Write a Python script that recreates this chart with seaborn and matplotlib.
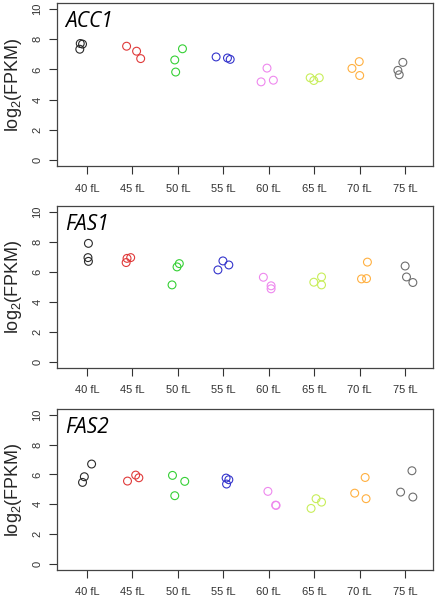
import pandas as pd
import matplotlib
matplotlib.use("Agg")
import matplotlib.pyplot as plt
import seaborn as sns

# categories (cell volume bins) and their colours
sizes = ["40 fL", "45 fL", "50 fL", "55 fL", "60 fL", "65 fL", "70 fL", "75 fL"]
colors = ["#2a2a2a", "#e03a3a", "#35d035", "#3535cc", "#ee88ee", "#c8ee5a", "#ffb040", "#6e6e6e"]

# log2(FPKM), three replicates per size bin
acc1 = [[7.34, 7.72, 7.68], [7.54, 7.21, 6.72], [6.63, 5.83, 7.37], [6.83, 6.76, 6.67],
        [5.18, 6.09, 5.29], [5.45, 5.27, 5.45], [6.07, 6.52, 5.60], [5.94, 5.65, 6.47]]
fas1 = [[7.90, 6.95, 6.70], [6.62, 6.90, 6.95], [5.13, 6.33, 6.55], [6.13, 6.73, 6.46],
        [5.64, 5.07, 4.87], [5.31, 5.66, 5.13], [5.53, 5.55, 6.65], [6.39, 5.66, 5.29]]
fas2 = [[5.47, 5.85, 6.70], [5.56, 5.96, 5.78], [5.94, 4.58, 5.54], [5.76, 5.65, 5.36],
        [4.87, 3.95, 3.93], [3.73, 4.38, 4.15], [4.75, 5.80, 4.38], [4.82, 6.25, 4.49]]

# horizontal jitter of each replicate as seen in the picture
jit_acc1 = [[-0.16, -0.15, -0.10], [-0.13, 0.09, 0.18], [-0.07, -0.05, 0.10], [-0.16, 0.09, 0.15],
            [-0.17, -0.04, 0.10], [-0.09, -0.01, 0.11], [-0.17, -0.01, 0.00], [-0.16, -0.13, -0.05]]
jit_fas1 = [[0.03, 0.02, 0.03], [-0.14, -0.12, -0.04], [-0.13, -0.02, 0.03], [-0.12, -0.01, 0.12],
            [-0.12, 0.05, 0.05], [-0.01, 0.16, 0.16], [0.04, 0.15, 0.17], [0.00, 0.03, 0.17]]
jit_fas2 = [[-0.10, -0.06, 0.10], [-0.11, 0.07, 0.14], [-0.12, -0.07, 0.15], [0.06, 0.12, 0.07],
            [-0.02, 0.15, 0.16], [-0.07, 0.04, 0.16], [-0.11, 0.12, 0.14], [-0.10, 0.15, 0.17]]

genes = ["ACC1", "FAS1", "FAS2"]
values = [acc1, fas1, fas2]
jitters = [jit_acc1, jit_fas1, jit_fas2]


def make_frame(vals, jit):
    rows = []
    for i, size in enumerate(sizes):
        for v, j in zip(vals[i], jit[i]):
            rows.append({"size": size, "pos": i + j, "log2fpkm": v})
    return pd.DataFrame(rows)


sns.set_style("white")
plt.rcParams["font.family"] = ["Liberation Sans", "DejaVu Sans"]
plt.rcParams["mathtext.default"] = "regular"

fig = plt.figure(figsize=(4.39, 6.02), dpi=100)
panels = [(0.724, 0.995), (0.389, 0.658), (0.053, 0.321)]
palette = dict(zip(sizes, colors))

for gene, vals, jit, (b, t) in zip(genes, values, jitters, panels):
    ax = fig.add_axes([0.13, b, 0.856, t - b])
    df = make_frame(vals, jit)
    sns.scatterplot(data=df, x="pos", y="log2fpkm", hue="size", palette=palette,
                    marker="o", s=32, linewidth=0.8, legend=False, ax=ax)
    # seaborn fills markers; make them hollow rings in the hue colour
    coll = ax.collections[0]
    coll.set_edgecolors(coll.get_facecolors())
    coll.set_facecolors("none")

    ax.set_xlim(-0.66, 7.61)
    ax.set_ylim(-0.4, 10.4)
    ax.set_xticks(range(len(sizes)))
    ax.set_xticklabels(sizes)
    ax.set_yticks([0, 2, 4, 6, 8, 10])
    ax.set_xlabel("")
    ax.set_ylabel("log$_2$(FPKM)", fontsize=13, labelpad=6)
    ax.tick_params(axis="both", direction="out", length=5.5, width=0.8,
                   colors="#333333", labelsize=8, bottom=True, left=True)
    ax.tick_params(axis="x", pad=7)
    ax.tick_params(axis="y", pad=5)
    for lab in ax.get_yticklabels():
        lab.set_rotation(90)
        lab.set_va("center")
    for sp in ax.spines.values():
        sp.set_color("#444444")
        sp.set_linewidth(0.9)
    ax.text(0.022, 0.885, gene, transform=ax.transAxes, fontsize=15,
            style="italic", va="center", ha="left", color="black",
            family=["Open Sans", "DejaVu Sans"])

fig.savefig("out.png", dpi=100)
